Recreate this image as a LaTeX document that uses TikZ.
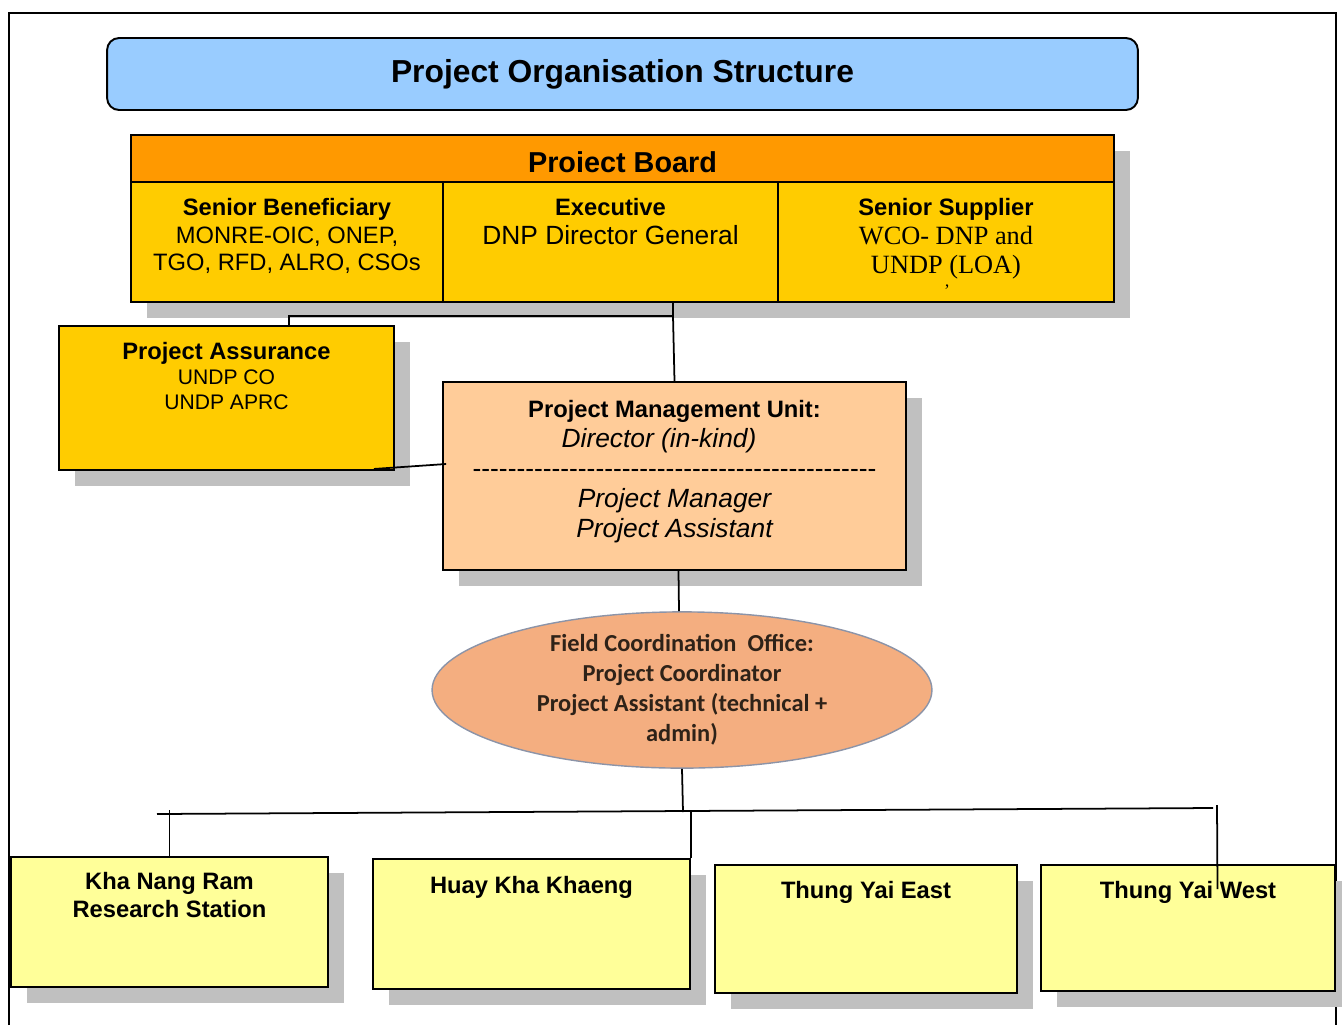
\documentclass[tikz,border=0pt]{standalone}
\usepackage{fontspec}
\setmainfont{Liberation Sans}
\newfontfamily\serifface{Liberation Serif}
\newfontfamily\calface{Carlito}
\usepackage{xcolor}
\usetikzlibrary{shapes, positioning, calc, shadows}
\definecolor{titleblue}{HTML}{99CCFF}
\definecolor{boardorange}{HTML}{FF9900}
\definecolor{boardgold}{HTML}{FFCC00}
\definecolor{pmupeach}{HTML}{FFCC99}
\definecolor{sitecream}{HTML}{FFFF99}
\definecolor{fcosalmon}{HTML}{F4AE80}
\definecolor{fcoedge}{HTML}{8C94A8}
\definecolor{fcotext}{HTML}{2E2218}
\definecolor{shadowgrey}{HTML}{C0C0C0}
\newcommand{\dashrow}{\foreach \d in {1,...,46}{-}}
\newcommand{\pmuline}{\fontsize{15}{17.1}\selectfont\itshape}
\newcommand{\supline}{\serifface\fontsize{15}{16.7}\selectfont}
\tikzset{
    box/.style={
        rectangle,
        draw=black,
        line width=1.1pt,
        inner sep=0pt,
        drop shadow={shadow xshift=0.32cm, shadow yshift=-0.32cm, fill=shadowgrey, opacity=1},
    },
    cell/.style={
        box,
        fill=boardgold,
        minimum height=2.4cm,
    },
    site/.style={
        box,
        fill=sitecream,
    },
    boxtext/.style={
        inner sep=0pt,
        align=center,
        font=\fontsize{13.5}{15.9}\selectfont,
    },
    link/.style={
        draw=black,
        line width=1pt,
    },
}
\begin{document}
\begin{tikzpicture}[x=0.02cm, y=-0.02cm]
          \useasboundingbox (0,0) rectangle (1342,1025);
          \draw[line width=1.2pt] (9,1025) |- (1336,13) -- (1336,1025);

          \node [rectangle, rounded corners=0.24cm, draw=black, line width=1.1pt, fill=titleblue,
                 minimum width=20.62cm, minimum height=1.44cm,
                 font=\fontsize{18.1}{21}\selectfont\bfseries] (title) at (622.5,74) {Project Organisation Structure};

          % project board
          \node [box, fill=boardorange, minimum width=19.66cm, minimum height=0.94cm, text height=0.556cm, text depth=0pt,
                 font=\fontsize{16.4}{19}\selectfont\bfseries] (board) at (622.5,158.5) {Proiect Board};
          \node [cell, minimum width=6.24cm] (ben) at (287,242) {};
          \node [cell, minimum width=6.7cm] (exec) at (610.5,242) {};
          \node [cell, minimum width=6.72cm] (sup) at (946,242) {};
          \node [boxtext, below=0.33cm of ben.north] (ben-text) {\textbf{Senior Beneficiary}\\MONRE-OIC, ONEP,\\TGO, RFD, ALRO, CSOs};
          \node [boxtext, font=\fontsize{13.5}{16.9}\selectfont, below=0.33cm of exec.north] (exec-text)
                {\textbf{Executive}\\{\fontsize{15}{16.9}\selectfont DNP Director General}};
          \node [boxtext, font=\fontsize{13.5}{16.7}\selectfont, below=0.33cm of sup.north] (sup-text)
                {\textbf{Senior Supplier}\\{\supline WCO- DNP and}\\{\supline UNDP (LOA)}};
          \node [inner sep=0pt, font=\serifface\fontsize{10}{10}\selectfont] (sup-mark) at (947,291) {\textquoteright};

          \node [box, fill=boardgold, minimum width=6.7cm, minimum height=2.88cm] (pa) at (226.5,398) {};
          \node [boxtext, font=\fontsize{13.5}{14.2}\selectfont, below=0.34cm of pa.north] (pa-text)
                {\textbf{Project Assurance}\\{\fontsize{12}{14.2}\selectfont UNDP CO}\\{\fontsize{12}{14.2}\selectfont UNDP APRC}};

          \node [box, fill=pmupeach, minimum width=9.26cm, minimum height=3.76cm] (pmu) at (674.5,476) {};
          \node [boxtext, font=\fontsize{13.5}{17.1}\selectfont, below=0.37cm of pmu.north] (pmu-text)
                {\textbf{Project Management Unit:}\\{\pmuline Director (in-kind)}\hspace{0.62cm}\mbox{}\\{\fontsize{15}{17.1}\selectfont\dashrow}\\{\pmuline Project Manager}\\{\pmuline Project Assistant}};

          \node [ellipse, draw=fcoedge, line width=0.8pt, fill=fcosalmon, minimum width=10cm, minimum height=3.02cm,
                 inner sep=0pt, align=center, text=fcotext, font=\calface\bfseries\fontsize{13.9}{17}\selectfont]
                (fco) at (682,690) {Field Coordination\ \ Office:\\Project Coordinator\\Project Assistant (technical +\\admin)};

          % field sites
          \node [site, minimum width=6.34cm, minimum height=2.6cm] (kha) at (169.5,922) {};
          \node [site, minimum width=6.34cm, minimum height=2.6cm] (huay) at (531.5,924) {};
          \node [site, minimum width=6.04cm, minimum height=2.56cm] (tye) at (866,929) {};
          \node [site, minimum width=5.88cm, minimum height=2.52cm] (tyw) at (1188,928) {};
          \node [boxtext, font=\fontsize{13.5}{15.9}\selectfont\bfseries, below=0.31cm of kha.north] (kha-text) {Kha Nang Ram\\Research Station};
          \node [boxtext, font=\fontsize{13.5}{15.9}\selectfont\bfseries, below=0.35cm of huay.north] (huay-text) {Huay Kha Khaeng};
          \node [boxtext, font=\fontsize{13.5}{15.9}\selectfont\bfseries, below=0.33cm of tye.north] (tye-text) {Thung Yai East};
          \node [boxtext, font=\fontsize{13.5}{15.9}\selectfont\bfseries, below=0.33cm of tyw.north] (tyw-text) {Thung Yai West};

          \coordinate (board-tap) at (673,316);
          \coordinate (bus-west) at (157,814);
          \coordinate (bus-east) at (1213,808);
          \coordinate (bus-mid) at (683,812);
          \coordinate (bus-top) at (0,810);
          \coordinate (tyw-tap) at (1217,805);

          \draw[link] (exec.south -| board-tap) -- (board-tap) -| ([xshift=1.25cm]pa.north);
          \draw[link] (board-tap) -- (pmu.north);
          \draw[link] ([xshift=-0.42cm,yshift=0.04cm]pa.south east) -- ([xshift=0.08cm,yshift=0.24cm]pmu.west);
          \draw[link] ([xshift=0.08cm]pmu.south) -- ([xshift=-0.06cm]fco.north);
          \draw[link] (fco.south) -- (bus-mid);
          \draw[link] (bus-west) -- (bus-east);
          \draw[link] (kha.north) -- (kha.north |- bus-top);
          \draw[link] (huay.north east) -- (huay.north east |- bus-mid);
          \draw[link] (tyw-tap) -- ([xshift=0.59cm,yshift=-0.5cm]tyw.north);
        \end{tikzpicture}
\end{document}
